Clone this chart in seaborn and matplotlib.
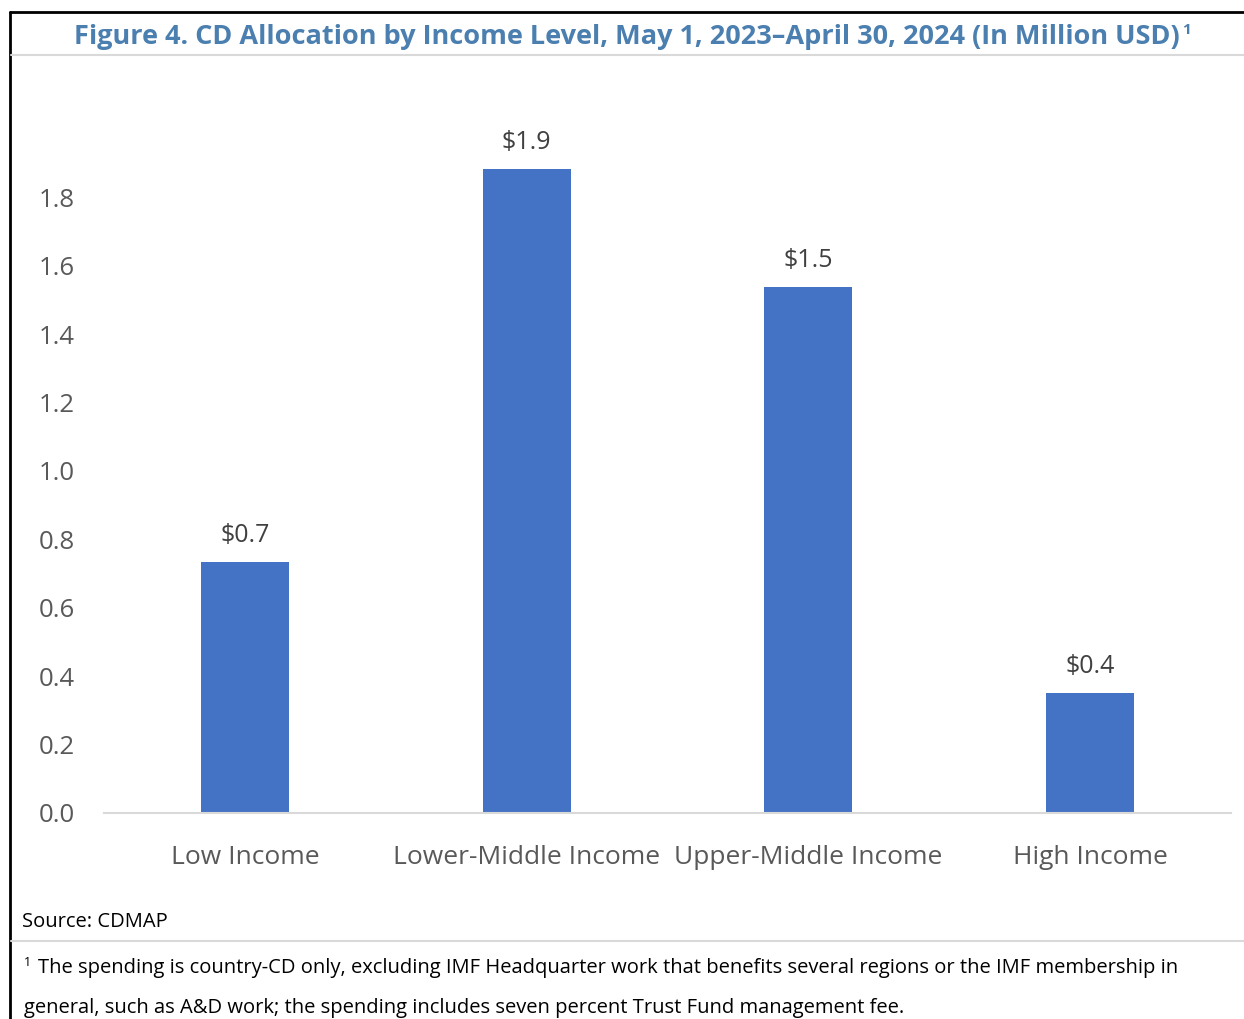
import matplotlib
matplotlib.use("Agg")
import matplotlib.pyplot as plt
import seaborn as sns
import pandas as pd
from matplotlib.lines import Line2D

categories = ["Low Income", "Lower-Middle Income", "Upper-Middle Income", "High Income"]
values = [0.733, 1.882, 1.537, 0.351]
labels = ["$0.7", "$1.9", "$1.5", "$0.4"]
yticks = [0.0, 0.2, 0.4, 0.6, 0.8, 1.0, 1.2, 1.4, 1.6, 1.8]

sns.set_theme(style="white")
plt.rcParams['font.family'] = ['Open Sans', 'DejaVu Sans']

W, H = 1244, 1019
fig = plt.figure(figsize=(W / 100, H / 100), dpi=100)
ax = fig.add_axes([104 / W, 1 - 813 / H, (1231 - 104) / W, (813 - 129) / H])

df = pd.DataFrame({"cat": categories, "val": values})
sns.barplot(data=df, x="cat", y="val", color="#4472C4", width=0.313, ax=ax,
            saturation=1, edgecolor="none")

ax.set_xlim(-0.5, 3.5)
ax.set_ylim(0, 2.0)
ax.set_yticks(yticks)
ax.set_yticklabels([f"{t:.1f}" for t in yticks])
ax.set_xlabel("")
ax.set_ylabel("")
for s in ["top", "right", "left"]:
    ax.spines[s].set_visible(False)
ax.spines["bottom"].set_color("#d9d9d9")
ax.spines["bottom"].set_linewidth(1.5)
ax.tick_params(axis="y", length=0, pad=21, labelsize=18.5, labelcolor="#595959")
ax.tick_params(axis="x", length=0, pad=23, labelsize=19, labelcolor="#595959")

for i, (v, lab) in enumerate(zip(values, labels)):
    ax.annotate(lab, (i, v), xytext=(0, 10), textcoords="offset points",
                ha="center", va="bottom", fontsize=18, color="#404040")

# title
title = fig.text(627 / W, 1 - 37 / H,
                 "Figure 4. CD Allocation by Income Level, May 1, 2023\u2013April 30, 2024 (In Million USD)",
                 ha="center", va="center", fontsize=19.5, fontweight="bold", color="#4a7fb0")
fig.canvas.draw()
bb = title.get_window_extent(renderer=fig.canvas.get_renderer())
fig.text((bb.x1 + 2) / W, 1 - 30 / H, "1", ha="left", va="center", fontsize=11,
         fontweight="bold", color="#4a7fb0")

# source and footnote
fig.text(22 / W, 1 - 922 / H, "Source: CDMAP", ha="left", va="center", fontsize=14.5, color="#000000")
fig.text(24 / W, 1 - 963 / H, "1", ha="left", va="center", fontsize=9, color="#000000")
fig.text(38 / W, 1 - 968 / H,
         "The spending is country-CD only, excluding IMF Headquarter work that benefits several regions or the IMF membership in",
         ha="left", va="center", fontsize=14.5, color="#000000")
fig.text(24 / W, 1 - 1008 / H,
         "general, such as A&D work; the spending includes seven percent Trust Fund management fee.",
         ha="left", va="center", fontsize=14.5, color="#000000")

# frame lines
fig.add_artist(Line2D([10 / W, 1], [1 - 12 / H, 1 - 12 / H], transform=fig.transFigure, color="black", lw=2))
fig.add_artist(Line2D([10 / W, 10 / W], [0, 1 - 12 / H], transform=fig.transFigure, color="black", lw=2))
fig.add_artist(Line2D([11 / W, 1], [1 - 55 / H, 1 - 55 / H], transform=fig.transFigure, color="#d9d9d9", lw=1.5))
fig.add_artist(Line2D([11 / W, 1], [1 - 941 / H, 1 - 941 / H], transform=fig.transFigure, color="#d9d9d9", lw=1.5))

fig.savefig("out.png", dpi=100)
